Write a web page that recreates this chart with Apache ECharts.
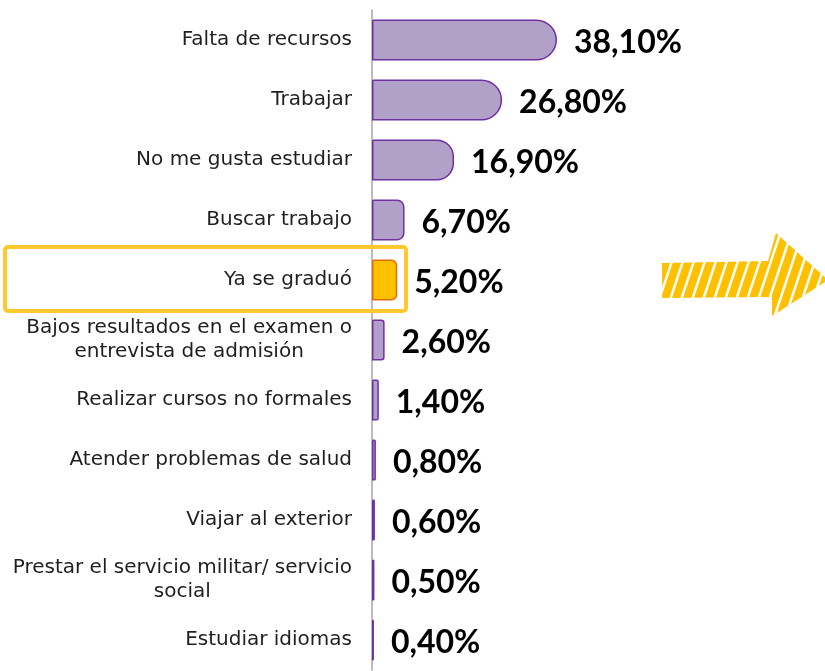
<!DOCTYPE html>
<html>
<head>
<meta charset="utf-8">
<script src="https://cdn.jsdelivr.net/npm/echarts@6/dist/echarts.min.js"></script>
<style>
html, body {margin: 0; padding: 0; background: #fff;}
#main {width: 825px; height: 671px;}
</style>
</head>
<body>
<div id="main"></div>
<script>
var categories = [
    'Falta de recursos',
    'Trabajar',
    'No me gusta estudiar',
    'Buscar trabajo',
    'Ya se graduó',
    'Bajos resultados en el examen o\nentrevista de admisión',
    'Realizar cursos no formales',
    'Atender problemas de salud',
    'Viajar al exterior',
    'Prestar el servicio militar/ servicio\nsocial',
    'Estudiar idiomas'
];
var values = [38.1, 26.8, 16.9, 6.7, 5.2, 2.6, 1.4, 0.8, 0.6, 0.5, 0.4];
var highlight = 'Ya se graduó';

var barColor = '#b1a0c7';
var barBorder = '#7030a0';
var hiColor = '#ffc000';
var hiBorder = '#e46c0a';

var gridWidth = 194.2;
var xMax = 40;

// patron de rayas para la flecha
var cv = document.createElement('canvas');
cv.width = 11;
cv.height = 33;
var ctx = cv.getContext('2d');
ctx.fillStyle = '#ffc000';
ctx.fillRect(0, 0, 11, 33);
ctx.strokeStyle = '#ffffff';
ctx.lineWidth = 2.5;
ctx.beginPath();
ctx.moveTo(-11, 33); ctx.lineTo(0, 0);
ctx.moveTo(0, 33); ctx.lineTo(11, 0);
ctx.moveTo(11, 33); ctx.lineTo(22, 0);
ctx.stroke();

var chart = echarts.init(document.getElementById('main'));

var data = [];
for (var i = 0; i < values.length; i++) {
    // esquina redondeada segun el largo de la barra (como en excel)
    var w = values[i] / xMax * gridWidth;
    var r = Math.min(20, w * 0.2);
    var item = {value: values[i], itemStyle: {borderRadius: [0, r, r, 0]}};
    if (categories[i] == highlight) {
        item.itemStyle.color = hiColor;
        item.itemStyle.borderColor = hiBorder;
    }
    data.push(item);
}

var option = {
    animation: false,
    grid: {
        left: 372,
        top: 10,
        width: gridWidth,
        bottom: 1
    },
    xAxis: {
        type: 'value',
        min: 0,
        max: xMax,
        show: false
    },
    yAxis: {
        type: 'category',
        inverse: true,
        data: categories,
        axisLine: {lineStyle: {color: '#a6a6a6', width: 1.5}},
        axisTick: {length: 8, lineStyle: {color: '#a6a6a6', width: 1.5}},
        axisLabel: {
            margin: 20,
            color: '#1f1f1f',
            fontFamily: 'DejaVu Sans',
            fontSize: 20,
            lineHeight: 24,
            formatter: function (v) {
                return v.split('\n').map(function (s) { return '{c|' + s + '}'; }).join('\n');
            },
            rich: {
                c: {align: 'center', color: '#1f1f1f', fontFamily: 'DejaVu Sans', fontSize: 20, lineHeight: 24}
            }
        }
    },
    series: [{
        type: 'bar',
        data: data,
        barWidth: 41,
        itemStyle: {
            color: barColor,
            borderColor: barBorder,
            borderWidth: 1.5
        },
        label: {
            show: true,
            position: 'right',
            distance: 17,
            offset: [0, 3],
            color: '#000',
            fontFamily: 'Lato',
            fontWeight: 'bold',
            fontSize: 32,
            formatter: function (p) {
                return p.value.toFixed(2).replace('.', ',') + '%';
            }
        }
    }],
    graphic: [
        {
            type: 'rect',
            shape: {x: 5, y: 247, width: 401, height: 64, r: 3},
            style: {fill: 'none', stroke: '#ffc82c', lineWidth: 4},
            z: 10
        },
        {
            type: 'polygon',
            shape: {points: [[662, 263], [768, 261], [776, 233], [828, 280], [772, 316], [772, 297], [662, 298]]},
            style: {fill: {image: cv, repeat: 'repeat'}},
            z: 10
        }
    ]
};

chart.setOption(option);
</script>
</body>
</html>
